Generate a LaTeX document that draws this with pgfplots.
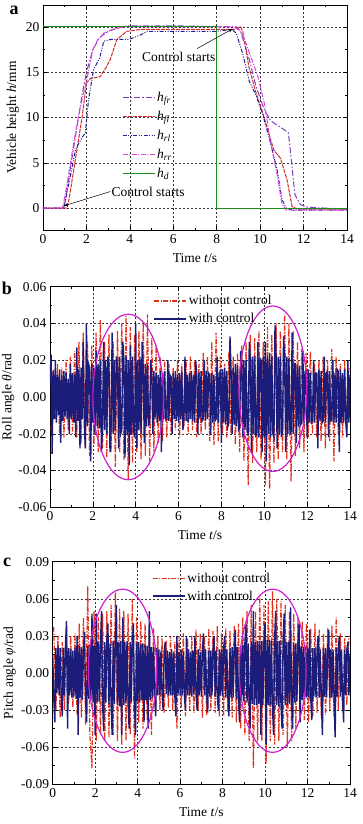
\documentclass[border=0pt]{standalone}
\usepackage{fontspec}
\setmainfont{Liberation Serif}
\usepackage{pgfplots}
\pgfplotsset{compat=1.18}
\newcommand\fs{\fontsize{13.5}{16}\selectfont}
\definecolor{cfr}{HTML}{7B3FC4}
\definecolor{cfl}{HTML}{D22A2A}
\definecolor{crl}{HTML}{20209A}
\definecolor{crr}{HTML}{E040E0}
\definecolor{cd}{HTML}{1E8C1E}
\definecolor{cwo}{HTML}{E0301E}
\definecolor{cwi}{HTML}{1C1C7A}
\definecolor{cell}{HTML}{D020D0}
\pgfplotsset{
  myax/.style={
    scale only axis, xmin=0, xmax=14, xtick={0,2,...,14},
    minor x tick num=1, minor y tick num=1,
    tick align=inside, major tick length=4pt, minor tick length=2pt,
    tick style={black, line width=0.5pt},
    axis line style={black, line width=0.6pt},
    grid=major, major grid style={black!80, line width=0.45pt, dash pattern=on 2pt off 2pt},
    ticklabel style={font=\fs},
    xticklabel style={yshift=-1pt},
    label style={font=\fs},
    xlabel={Time \textit{t}/s},
    xlabel style={yshift=-3pt},
    scaled y ticks=false,
    /pgf/number format/assume math mode=true,
    legend style={draw=none, fill=none, font=\fs, inner sep=0pt, row sep=3pt, cells={anchor=west}},
    legend image code/.code={\draw[##1] (0pt,0pt) -- (32pt,0pt);},
  },
  fix2/.style={yticklabel style={/pgf/number format/fixed, /pgf/number format/fixed zerofill, /pgf/number format/precision=2}},
}
\begin{document}
\begin{tikzpicture}[x=1pt,y=1pt]
\useasboundingbox (0,0) rectangle (362,824);
% ---------------- panel a ----------------
\begin{axis}[myax, at={(43pt,594pt)}, anchor=south west, width=304pt, height=225pt,
  ymin=-2.4, ymax=22.4, ytick={0,5,10,15,20},
  ylabel={Vehicle height \textit{h}/mm},
  ylabel style={at={(axis description cs:-0.099,0.5)}, anchor=center},
  legend style={at={(0.259,0.622)}, anchor=north west, row sep=4pt}]
\addplot[cfr, line width=1pt, dash pattern=on 6pt off 2pt on 1.5pt off 2pt] coordinates {
(0,0)(0.9,0)(1.0,0.5)(1.2,3.5)(1.5,8)(1.8,12.5)(2.0,15)(2.3,17.5)(2.6,18.8)(3.0,19.5)(3.5,19.9)(3.9,20.1)(6,20.1)(8.9,20.0)(9.1,19.5)(9.5,16.4)(9.8,13.5)(10.2,10.8)(10.5,9.6)(10.9,9.0)(11.3,8.3)(11.45,5)(11.6,1.5)(11.85,0.4)(12.2,0.1)(14,-0.1)};
\addlegendentry{\textit{h}\textsubscript{\textit{fr}}}
\addplot[cfl, line width=1pt, dash pattern=on 4pt off 1pt] coordinates {
(0,0)(1.1,0)(1.2,1)(1.5,5.5)(1.8,10)(2.0,13.8)(2.18,14.3)(2.64,14.5)(2.9,15.5)(3.1,16.4)(3.4,18.6)(3.87,19.5)(4.5,19.7)(8.8,19.7)(9.1,20.0)(9.2,19.5)(9.48,15.6)(9.8,12.8)(10.17,10.1)(10.63,6.4)(10.94,5.5)(11.24,3.1)(11.47,0.2)(11.7,-0.1)(14,-0.1)};
\addlegendentry{\textit{h}\textsubscript{\textit{fl}}}
\addplot[crl, line width=1pt, dash pattern=on 4pt off 1.5pt on 1pt off 1.5pt on 1pt off 1.5pt] coordinates {
(0,0)(0.95,0)(1.0,0.5)(1.3,4)(1.5,6.5)(1.8,7.8)(1.95,8.3)(2.1,12)(2.33,15.3)(2.6,16.5)(2.8,18.4)(3.1,18.6)(3.95,18.6)(4.5,19.1)(4.8,19.5)(8.0,19.5)(8.7,19.7)(8.9,19.3)(9.2,17)(9.5,14)(9.8,12.5)(10.1,10.5)(10.5,7)(10.8,4)(11.0,1)(11.2,0)(11.5,-0.2)(14,-0.2)};
\addlegendentry{\textit{h}\textsubscript{\textit{rl}}}
\addplot[crr, line width=1pt, dash pattern=on 5pt off 1.5pt on 1pt off 1.5pt] coordinates {
(0,0)(0.9,0)(1.1,2.5)(1.4,7)(1.7,11)(2.0,14)(2.3,17.5)(2.5,18.5)(2.8,19.3)(3.3,19.8)(3.8,20.0)(8.8,20.0)(9.1,19.5)(9.3,18.5)(9.6,16.5)(9.9,14.5)(10.2,11.5)(10.5,7)(10.8,3.5)(11.0,0.5)(11.2,-0.2)(14,-0.2)};
\addlegendentry{\textit{h}\textsubscript{\textit{rr}}}
\addplot[cd, line width=1.2pt] coordinates {(0,20)(8,20)(8,0)(14,0)};
\addlegendentry{\textit{h}\textsubscript{\textit{d}}}
\draw[-latex, line width=0.5pt] (axis cs:3.1,1.84) -- (axis cs:0.95,0.25);
\node[font=\fs, anchor=west, inner sep=1pt] at (axis cs:3.1,1.84) {Control starts};
\draw[-latex, line width=0.5pt] (axis cs:7.1,17.6) -- (axis cs:8.75,19.8);
\node[font=\fs, inner sep=1pt] at (axis cs:6.25,16.65) {Control starts};
\end{axis}
\node[font=\fontsize{18}{18}\selectfont\bfseries] at (14,814) {a};
% ---------------- panel b ----------------
\begin{axis}[myax, fix2, at={(50pt,316.7pt)}, anchor=south west, width=300pt, height=220.6pt,
  ymin=-0.06, ymax=0.06, ytick={-0.06,-0.04,...,0.061},
  ylabel={Roll angle \textit{θ}/rad},
  ylabel style={at={(axis description cs:-0.14,0.5)}, anchor=center},
  legend style={at={(0.344,0.97)}, anchor=north west}]
\addplot[cwo, line width=1.2pt, dash pattern=on 5pt off 1.5pt on 1.2pt off 1.5pt] coordinates {
(0.05,-0.018)(0.15,0.015)(0.25,-0.012)(0.35,0.018)(0.45,-0.020)(0.55,0.016)(0.65,-0.022)(0.75,0.020)(0.85,-0.018)(0.95,0.022)
(1.05,-0.020)(1.15,0.025)(1.25,-0.022)(1.35,0.030)(1.45,-0.025)(1.55,0.035)(1.65,-0.028)(1.75,0.030)(1.85,-0.032)(1.95,0.028)
(2.05,-0.026)(2.15,0.035)(2.25,-0.030)(2.35,0.042)(2.45,-0.028)(2.55,0.030)(2.65,-0.033)(2.75,0.034)(2.85,-0.030)(2.95,0.030)
(3.05,-0.038)(3.15,0.036)(3.25,-0.030)(3.35,0.040)(3.45,-0.034)(3.55,0.044)(3.65,-0.045)(3.75,0.038)(3.85,-0.036)(3.95,0.034)
(4.05,-0.030)(4.15,0.036)(4.25,-0.034)(4.35,0.040)(4.45,-0.032)(4.55,0.045)(4.65,-0.035)(4.75,0.032)(4.85,-0.030)(4.95,0.028)
(5.05,-0.025)(5.15,0.022)(5.25,-0.024)(5.35,0.020)(5.45,-0.022)(5.55,0.018)(5.65,-0.020)(5.75,0.016)(5.85,-0.018)(5.95,0.020)
(6.05,-0.022)(6.15,0.018)(6.25,-0.016)(6.35,0.020)(6.45,-0.020)(6.55,0.022)(6.65,-0.018)(6.75,0.020)(6.85,-0.022)(6.95,0.018)
(7.05,-0.020)(7.15,0.024)(7.25,-0.018)(7.35,0.022)(7.45,-0.024)(7.55,0.030)(7.65,-0.026)(7.75,0.035)(7.85,-0.024)(7.95,0.022)
(8.05,-0.020)(8.15,0.018)(8.25,-0.022)(8.35,0.025)(8.45,-0.020)(8.55,0.022)(8.65,-0.026)(8.75,0.024)(8.85,-0.030)(8.95,0.028)
(9.05,-0.035)(9.15,0.030)(9.25,-0.048)(9.35,0.034)(9.45,-0.036)(9.55,0.032)(9.65,-0.030)(9.75,0.036)(9.85,-0.034)(9.95,0.030)
(10.05,-0.048)(10.15,0.038)(10.25,-0.050)(10.35,0.034)(10.45,-0.036)(10.55,0.040)(10.65,-0.034)(10.75,0.036)(10.85,-0.030)(10.95,0.045)
(11.05,-0.034)(11.15,0.040)(11.25,-0.046)(11.35,0.036)(11.45,-0.032)(11.55,0.030)(11.65,-0.028)(11.75,0.026)(11.85,-0.030)(11.95,0.024)
(12.05,-0.022)(12.15,0.025)(12.25,-0.020)(12.35,0.018)(12.45,-0.022)(12.55,0.020)(12.65,-0.024)(12.75,0.022)(12.85,-0.028)(12.95,0.020)
(13.05,-0.024)(13.15,0.026)(13.25,-0.035)(13.35,0.022)(13.45,-0.020)(13.55,0.018)(13.65,-0.022)(13.75,0.020)(13.85,-0.018)(13.95,0.016)};
\addlegendentry{without control}
\addplot[cwi, line width=1.4pt] coordinates {
(0.00,0.008)(0.05,0.023)(0.10,-0.031)(0.15,0.014)(0.20,-0.012)(0.25,0.020)(0.30,-0.014)(0.35,0.012)(0.40,-0.010)(0.45,0.015)
(0.50,-0.025)(0.55,0.012)(0.60,-0.013)(0.65,0.014)(0.70,-0.011)(0.75,0.013)(0.80,-0.012)(0.85,0.010)(0.90,-0.020)(0.95,0.018)
(1.00,-0.012)(1.05,0.013)(1.10,-0.014)(1.15,0.012)(1.20,-0.022)(1.25,0.027)(1.30,-0.013)(1.35,0.015)(1.40,-0.028)(1.45,0.016)
(1.50,-0.012)(1.55,0.030)(1.60,-0.015)(1.65,-0.028)(1.70,0.040)(1.75,-0.016)(1.80,0.018)(1.85,0.016)(1.90,-0.035)(1.95,0.018)
(2.00,-0.014)(2.05,0.016)(2.10,-0.020)(2.15,0.025)(2.20,-0.016)(2.25,0.018)(2.30,-0.017)(2.35,0.020)(2.40,-0.030)(2.45,-0.015)
(2.50,0.030)(2.55,-0.018)(2.60,0.020)(2.65,-0.020)(2.70,0.022)(2.75,0.018)(2.80,-0.030)(2.85,-0.016)(2.90,0.035)(2.95,-0.020)
(3.00,0.020)(3.05,-0.018)(3.10,0.022)(3.15,0.018)(3.20,-0.028)(3.25,0.022)(3.30,-0.020)(3.35,-0.018)(3.40,0.030)(3.45,0.020)
(3.50,-0.033)(3.55,0.022)(3.60,-0.020)(3.65,0.020)(3.70,-0.037)(3.75,0.028)(3.80,-0.020)(3.85,0.022)(3.90,-0.018)(3.95,-0.022)
(4.00,0.040)(4.05,-0.028)(4.10,0.020)(4.15,-0.018)(4.20,0.022)(4.25,-0.020)(4.30,0.030)(4.35,0.016)(4.40,-0.025)(4.45,0.018)
(4.50,-0.016)(4.55,0.018)(4.60,-0.015)(4.65,-0.014)(4.70,0.020)(4.75,0.012)(4.80,-0.020)(4.85,0.014)(4.90,-0.012)(4.95,0.013)
(5.00,-0.014)(5.05,0.012)(5.10,-0.013)(5.15,0.014)(5.20,-0.030)(5.25,0.013)(5.30,-0.012)(5.35,0.014)(5.40,-0.012)(5.45,-0.011)
(5.50,0.020)(5.55,-0.013)(5.60,0.012)(5.65,0.011)(5.70,-0.020)(5.75,0.013)(5.80,-0.012)(5.85,0.014)(5.90,-0.013)(5.95,0.012)
(6.00,-0.014)(6.05,0.013)(6.10,-0.012)(6.15,0.014)(6.20,-0.018)(6.25,-0.012)(6.30,0.022)(6.35,-0.013)(6.40,0.012)(6.45,-0.014)
(6.50,0.013)(6.55,-0.012)(6.60,0.014)(6.65,-0.013)(6.70,0.012)(6.75,-0.014)(6.80,0.020)(6.85,0.012)(6.90,-0.020)(6.95,0.013)
(7.00,-0.012)(7.05,0.014)(7.10,-0.013)(7.15,-0.012)(7.20,0.020)(7.25,-0.013)(7.30,0.014)(7.35,-0.012)(7.40,0.013)(7.45,0.012)
(7.50,-0.020)(7.55,0.013)(7.60,-0.014)(7.65,0.012)(7.70,-0.013)(7.75,-0.012)(7.80,0.022)(7.85,-0.014)(7.90,0.013)(7.95,0.014)
(8.00,-0.025)(8.05,0.015)(8.10,-0.014)(8.15,0.016)(8.20,-0.015)(8.25,0.014)(8.30,-0.016)(8.35,-0.014)(8.40,0.033)(8.45,0.014)
(8.50,-0.020)(8.55,0.016)(8.60,-0.015)(8.65,0.018)(8.70,-0.016)(8.75,0.017)(8.80,-0.018)(8.85,-0.017)(8.90,0.025)(8.95,0.018)
(9.00,-0.022)(9.05,0.020)(9.10,-0.018)(9.15,0.020)(9.20,-0.019)(9.25,-0.020)(9.30,0.030)(9.35,0.020)(9.40,-0.030)(9.45,0.022)
(9.50,-0.020)(9.55,0.022)(9.60,-0.021)(9.65,-0.020)(9.70,0.030)(9.75,-0.022)(9.80,0.021)(9.85,0.020)(9.90,-0.030)(9.95,0.022)
(10.00,-0.022)(10.05,0.030)(10.10,-0.035)(10.15,0.022)(10.20,-0.020)(10.25,0.024)(10.30,-0.022)(10.35,0.022)(10.40,-0.020)(10.45,-0.022)
(10.50,0.039)(10.55,0.022)(10.60,-0.028)(10.65,0.022)(10.70,-0.020)(10.75,0.022)(10.80,-0.021)(10.85,-0.020)(10.90,0.033)(10.95,0.020)
(11.00,-0.030)(11.05,0.022)(11.10,-0.020)(11.15,0.021)(11.20,-0.020)(11.25,-0.019)(11.30,0.035)(11.35,-0.020)(11.40,0.018)(11.45,0.018)
(11.50,-0.025)(11.55,0.017)(11.60,-0.016)(11.65,0.017)(11.70,-0.015)(11.75,-0.014)(11.80,0.025)(11.85,-0.015)(11.90,0.014)(11.95,0.014)
(12.00,-0.022)(12.05,0.015)(12.10,-0.014)(12.15,0.013)(12.20,-0.014)(12.25,-0.013)(12.30,0.020)(12.35,-0.014)(12.40,0.013)(12.45,0.013)
(12.50,-0.028)(12.55,0.015)(12.60,-0.013)(12.65,0.014)(12.70,-0.014)(12.75,-0.013)(12.80,0.022)(12.85,-0.014)(12.90,0.013)(12.95,0.014)
(13.00,-0.022)(13.05,0.014)(13.10,-0.013)(13.15,-0.013)(13.20,0.020)(13.25,-0.014)(13.30,0.013)(13.35,-0.014)(13.40,0.015)(13.45,0.014)
(13.50,-0.030)(13.55,0.015)(13.60,-0.014)(13.65,0.013)(13.70,-0.014)(13.75,0.015)(13.80,-0.013)(13.85,-0.022)(13.90,0.020)(13.95,-0.014)(14.00,0.012)};
\addlegendentry{with control}
\draw[cell, line width=1.2pt] (axis cs:3.65,0) ellipse [x radius=1.65, y radius=0.045];
\draw[cell, line width=1.2pt] (axis cs:10.4,0.0045) ellipse [x radius=1.58, y radius=0.045];
\end{axis}
\node[font=\fontsize{18}{18}\selectfont\bfseries] at (7,536) {b};
% ---------------- panel c ----------------
\begin{axis}[myax, fix2, at={(52.7pt,39.7pt)}, anchor=south west, width=297.3pt, height=222.6pt,
  ymin=-0.09, ymax=0.09, ytick={-0.09,-0.06,...,0.091},
  ylabel={Pitch angle \textit{φ}/rad},
  ylabel style={at={(axis description cs:-0.145,0.5)}, anchor=center},
  legend style={at={(0.333,0.96)}, anchor=north west}]
\addplot[cwo, line width=1.2pt, dash pattern=on 5pt off 1.5pt on 1.2pt off 1.5pt] coordinates {
(0.05,0.037)(0.15,-0.030)(0.25,0.030)(0.35,-0.036)(0.45,0.025)(0.55,-0.030)(0.65,0.028)(0.75,-0.025)(0.85,0.030)(0.95,-0.028)
(1.05,0.032)(1.15,-0.035)(1.25,0.040)(1.35,-0.036)(1.45,0.045)(1.55,-0.042)(1.65,0.070)(1.75,-0.050)(1.85,-0.077)(1.95,0.050)
(2.05,-0.055)(2.15,0.045)(2.25,-0.050)(2.35,0.048)(2.45,-0.055)(2.55,0.050)(2.65,-0.052)(2.75,0.055)(2.85,-0.050)(2.95,0.065)
(3.05,-0.055)(3.15,0.052)(3.25,-0.058)(3.35,0.050)(3.45,-0.055)(3.55,0.048)(3.65,-0.050)(3.75,0.060)(3.85,-0.069)(3.95,0.045)
(4.05,-0.040)(4.15,0.042)(4.25,-0.045)(4.35,0.040)(4.45,-0.038)(4.55,0.035)(4.65,-0.050)(4.75,0.036)(4.85,-0.032)(4.95,0.030)
(5.05,-0.030)(5.15,0.028)(5.25,-0.032)(5.35,0.026)(5.45,-0.028)(5.55,0.030)(5.65,-0.030)(5.75,0.025)(5.85,-0.045)(5.95,0.030)
(6.05,-0.028)(6.15,0.032)(6.25,-0.035)(6.35,0.028)(6.45,-0.030)(6.55,0.030)(6.65,-0.032)(6.75,0.035)(6.85,-0.030)(6.95,0.032)
(7.05,-0.036)(7.15,0.030)(7.25,-0.034)(7.35,0.036)(7.45,-0.030)(7.55,0.034)(7.65,-0.032)(7.75,0.038)(7.85,-0.035)(7.95,0.032)
(8.05,-0.034)(8.15,0.036)(8.25,-0.032)(8.35,0.034)(8.45,-0.036)(8.55,0.038)(8.65,-0.040)(8.75,0.040)(8.85,-0.045)(8.95,0.045)
(9.05,-0.050)(9.15,0.050)(9.25,-0.055)(9.35,0.055)(9.45,-0.077)(9.55,0.050)(9.65,-0.055)(9.75,0.062)(9.85,-0.055)(9.95,0.055)
(10.05,-0.073)(10.15,0.058)(10.25,-0.055)(10.35,0.066)(10.45,-0.058)(10.55,0.060)(10.65,-0.055)(10.75,0.058)(10.85,-0.050)(10.95,0.055)
(11.05,-0.060)(11.15,0.050)(11.25,-0.055)(11.35,0.048)(11.45,-0.045)(11.55,0.045)(11.65,-0.040)(11.75,0.042)(11.85,-0.038)(11.95,0.040)
(12.05,-0.040)(12.15,0.036)(12.25,-0.035)(12.35,0.040)(12.45,-0.032)(12.55,0.035)(12.65,-0.036)(12.75,0.032)(12.85,-0.034)(12.95,0.036)
(13.05,-0.030)(13.15,0.038)(13.25,-0.035)(13.35,0.045)(13.45,-0.030)(13.55,0.032)(13.65,-0.030)(13.75,0.028)(13.85,-0.026)(13.95,0.030)};
\addlegendentry{without control}
\addplot[cwi, line width=1.4pt] coordinates {
(0.00,0.015)(0.05,-0.020)(0.10,-0.040)(0.15,0.020)(0.20,-0.016)(0.25,0.022)(0.30,-0.018)(0.35,0.020)(0.40,-0.017)(0.45,-0.035)
(0.50,0.020)(0.55,-0.018)(0.60,0.021)(0.65,0.042)(0.70,-0.045)(0.75,0.020)(0.80,-0.018)(0.85,0.019)(0.90,-0.020)(0.95,0.018)
(1.00,-0.019)(1.05,0.020)(1.10,-0.021)(1.15,0.030)(1.20,-0.050)(1.25,0.022)(1.30,-0.020)(1.35,0.021)(1.40,-0.022)(1.45,0.020)
(1.50,0.033)(1.55,-0.022)(1.60,-0.040)(1.65,0.022)(1.70,-0.021)(1.75,0.023)(1.80,-0.022)(1.85,0.048)(1.90,-0.024)(1.95,0.022)
(2.00,-0.050)(2.05,0.048)(2.10,-0.024)(2.15,0.025)(2.20,-0.023)(2.25,0.024)(2.30,0.050)(2.35,-0.025)(2.40,-0.047)(2.45,0.025)
(2.50,-0.024)(2.55,0.026)(2.60,0.040)(2.65,-0.025)(2.70,0.024)(2.75,-0.026)(2.80,-0.050)(2.85,0.026)(2.90,-0.025)(2.95,0.027)
(3.00,0.055)(3.05,-0.026)(3.10,0.025)(3.15,-0.027)(3.20,0.026)(3.25,-0.050)(3.30,0.045)(3.35,-0.026)(3.40,0.025)(3.45,-0.024)
(3.50,0.026)(3.55,-0.025)(3.60,-0.045)(3.65,0.025)(3.70,-0.024)(3.75,0.026)(3.80,0.040)(3.85,-0.025)(3.90,-0.050)(3.95,0.024)
(4.00,-0.023)(4.05,0.025)(4.10,-0.024)(4.15,0.023)(4.20,-0.022)(4.25,0.024)(4.30,-0.040)(4.35,0.023)(4.40,-0.022)(4.45,0.022)
(4.50,-0.045)(4.55,0.050)(4.60,-0.022)(4.65,0.021)(4.70,-0.020)(4.75,0.021)(4.80,-0.020)(4.85,-0.035)(4.90,0.020)(4.95,-0.018)
(5.00,0.019)(5.05,-0.018)(5.10,0.018)(5.15,-0.017)(5.20,-0.030)(5.25,0.018)(5.30,0.025)(5.35,-0.017)(5.40,0.018)(5.45,-0.018)
(5.50,0.017)(5.55,-0.018)(5.60,0.019)(5.65,-0.018)(5.70,0.017)(5.75,-0.018)(5.80,-0.035)(5.85,0.030)(5.90,-0.018)(5.95,0.017)
(6.00,-0.018)(6.05,0.019)(6.10,-0.018)(6.15,0.017)(6.20,-0.018)(6.25,-0.030)(6.30,0.030)(6.35,-0.018)(6.40,0.019)(6.45,-0.018)
(6.50,0.017)(6.55,-0.019)(6.60,0.018)(6.65,-0.017)(6.70,0.030)(6.75,-0.018)(6.80,-0.030)(6.85,0.019)(6.90,-0.018)(6.95,0.017)
(7.00,-0.019)(7.05,0.018)(7.10,0.032)(7.15,-0.018)(7.20,0.019)(7.25,-0.018)(7.30,-0.032)(7.35,0.018)(7.40,-0.019)(7.45,0.018)
(7.50,-0.018)(7.55,0.019)(7.60,0.030)(7.65,-0.019)(7.70,0.018)(7.75,-0.019)(7.80,-0.030)(7.85,0.019)(7.90,-0.018)(7.95,0.019)
(8.00,-0.019)(8.05,0.020)(8.10,0.030)(8.15,-0.020)(8.20,0.019)(8.25,-0.020)(8.30,-0.035)(8.35,0.020)(8.40,-0.020)(8.45,0.021)
(8.50,-0.020)(8.55,0.021)(8.60,0.035)(8.65,-0.021)(8.70,0.021)(8.75,-0.022)(8.80,-0.040)(8.85,0.022)(8.90,-0.022)(8.95,0.023)
(9.00,-0.023)(9.05,0.024)(9.10,0.040)(9.15,-0.024)(9.20,0.024)(9.25,-0.025)(9.30,-0.045)(9.35,0.025)(9.40,-0.025)(9.45,0.050)
(9.50,-0.026)(9.55,0.025)(9.60,-0.026)(9.65,0.026)(9.70,-0.025)(9.75,0.026)(9.80,-0.050)(9.85,0.026)(9.90,-0.026)(9.95,0.027)
(10.00,0.040)(10.05,-0.058)(10.10,0.027)(10.15,-0.026)(10.20,0.027)(10.25,-0.026)(10.30,0.026)(10.35,-0.027)(10.40,-0.050)(10.45,0.027)
(10.50,0.050)(10.55,-0.026)(10.60,0.026)(10.65,-0.027)(10.70,0.026)(10.75,-0.026)(10.80,-0.045)(10.85,0.026)(10.90,0.048)(10.95,-0.026)
(11.00,0.025)(11.05,-0.026)(11.10,0.025)(11.15,-0.025)(11.20,0.053)(11.25,-0.025)(11.30,-0.045)(11.35,0.024)(11.40,-0.024)(11.45,0.024)
(11.50,-0.023)(11.55,0.023)(11.60,0.040)(11.65,-0.040)(11.70,0.022)(11.75,-0.022)(11.80,0.021)(11.85,-0.021)(11.90,0.021)(11.95,-0.020)
(12.00,0.020)(12.05,-0.020)(12.10,0.035)(12.15,-0.020)(12.20,-0.038)(12.25,0.020)(12.30,-0.019)(12.35,0.020)(12.40,-0.020)(12.45,0.019)
(12.50,0.030)(12.55,-0.020)(12.60,0.019)(12.65,-0.020)(12.70,-0.050)(12.75,0.020)(12.80,-0.019)(12.85,0.020)(12.90,-0.020)(12.95,0.019)
(13.00,0.035)(13.05,-0.020)(13.10,0.019)(13.15,-0.020)(13.20,0.019)(13.25,-0.020)(13.30,-0.052)(13.35,0.020)(13.40,-0.019)(13.45,0.020)
(13.50,0.030)(13.55,-0.019)(13.60,0.019)(13.65,-0.020)(13.70,-0.040)(13.75,0.019)(13.80,-0.018)(13.85,0.019)(13.90,0.025)(13.95,-0.018)(14.00,0.015)};
\addlegendentry{with control}
\draw[cell, line width=1.2pt] (axis cs:3.29,0.0018) ellipse [x radius=1.61, y radius=0.066];
\draw[cell, line width=1.2pt] (axis cs:10.36,0.0018) ellipse [x radius=1.57, y radius=0.066];
\end{axis}
\node[font=\fontsize{18}{18}\selectfont\bfseries] at (7,262) {c};
\end{tikzpicture}
\end{document}
